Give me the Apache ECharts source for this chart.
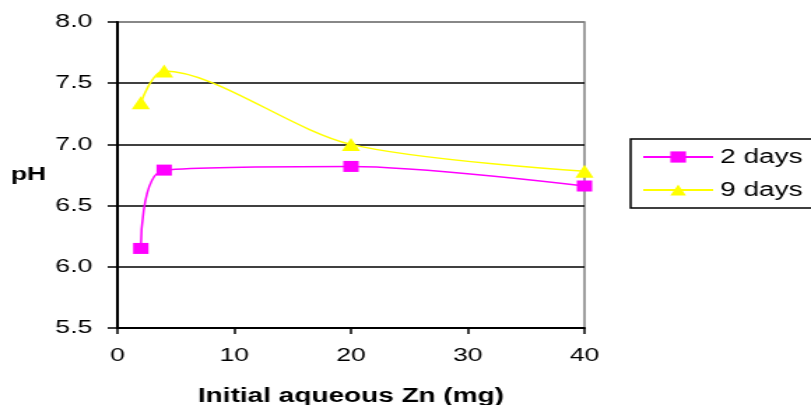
<!DOCTYPE html>
<html>
<head>
<meta charset="utf-8">
<script src="https://cdn.jsdelivr.net/npm/echarts@6/dist/echarts.min.js"></script>
<style>
  html, body { margin: 0; padding: 0; background: #fff; overflow: hidden; }
  /* the reference is stretched sideways, so draw narrow and widen */
  #chart { width: 580px; height: 405px; transform: scaleX(1.3983); transform-origin: 0 0; }
</style>
</head>
<body>
<div id="chart"></div>
<script>
// Initial aqueous Zn (mg)
var zinc = [2, 4, 20, 40];
// pH after 2 and 9 days
var ph2days = [6.15, 6.79, 6.82, 6.66];
var ph9days = [7.34, 7.60, 7.00, 6.78];
var seriesNames = ['2 days', '9 days'];

var font = 'Liberation Sans, Arial, sans-serif';

function pairs(xs, ys) {
  return xs.map(function (x, i) { return [x, ys[i]]; });
}

var myChart = echarts.init(document.getElementById('chart'));
var option = {
  animation: false,
  backgroundColor: '#fff',
  grid: {
    left: 84,
    right: 162,
    top: 22,
    bottom: 77,
    outerBoundsMode: 'none',
    show: true,
    borderColor: '#808080',
    borderWidth: 1.5
  },
  legend: {
    orient: 'vertical',
    left: 451,
    top: 139,
    padding: [8, 30, 8, 8],
    borderColor: '#000',
    borderWidth: 1.5,
    itemWidth: 50,
    itemHeight: 14,
    itemGap: 13,
    textStyle: { fontFamily: font, fontSize: 20, color: '#000', lineHeight: 20 },
    data: seriesNames
  },
  xAxis: {
    type: 'value',
    min: 0,
    max: 40,
    interval: 10,
    name: 'Initial aqueous Zn (mg)',
    nameLocation: 'middle',
    nameGap: 58,
    nameTextStyle: { fontFamily: font, fontSize: 20, fontWeight: 'bold', color: '#000' },
    axisLine: { lineStyle: { color: '#000', width: 2 } },
    axisTick: { length: 6, lineStyle: { color: '#000', width: 1.5 } },
    axisLabel: { fontFamily: font, fontSize: 19, color: '#000', margin: 18 },
    splitLine: { show: false }
  },
  yAxis: {
    type: 'value',
    min: 5.5,
    max: 8,
    interval: 0.5,
    name: 'pH',
    nameLocation: 'middle',
    nameRotate: 0,
    nameGap: 51,
    nameTextStyle: { fontFamily: font, fontSize: 19, fontWeight: 'bold', color: '#000' },
    axisLine: { show: true, lineStyle: { color: '#000', width: 2 } },
    axisTick: { show: true, length: 7, lineStyle: { color: '#000', width: 1.5 } },
    axisLabel: {
      fontFamily: font, fontSize: 19, color: '#000', margin: 18,
      formatter: function (v) { return v.toFixed(1); }
    },
    splitLine: {
      show: true,
      lineStyle: { color: ['#000', '#000', '#000', '#000', '#000', '#808080'], width: 1.5 }
    }
  },
  series: [
    {
      name: seriesNames[0],
      type: 'line',
      smooth: 0.3,
      symbol: 'rect',
      symbolSize: 11,
      itemStyle: { color: '#FF00FF' },
      lineStyle: { color: '#FF00FF', width: 1.5 },
      data: pairs(zinc, ph2days)
    },
    {
      name: seriesNames[1],
      type: 'line',
      smooth: 0.3,
      symbol: 'triangle',
      symbolSize: 13,
      itemStyle: { color: '#FFFF00' },
      lineStyle: { color: '#FFFF00', width: 1.5 },
      data: pairs(zinc, ph9days)
    }
  ]
};
option && myChart.setOption(option);
</script>
</body>
</html>
